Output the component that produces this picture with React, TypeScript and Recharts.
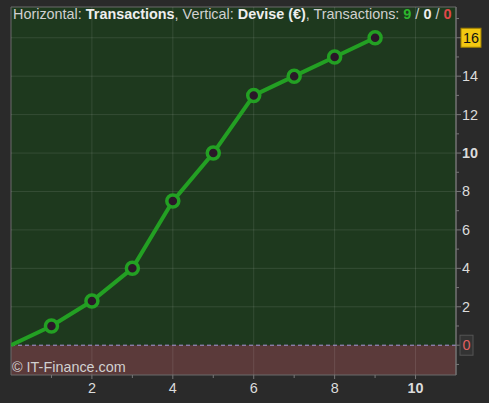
import {
  ComposedChart,
  Line,
  XAxis,
  YAxis,
  ReferenceArea,
  ReferenceLine,
} from "recharts";

const transactions = [0, 1, 2, 3, 4, 5, 6, 7, 8, 9];
const balance = [0, 1, 2.3, 4, 7.5, 10, 13, 14, 15, 16];
const xTicks = [1, 2, 3, 4, 5, 6, 7, 8, 9, 10];
const yTicks = [-1, 0, 1, 2, 3, 4, 5, 6, 7, 8, 9, 10, 11, 12, 13, 14, 15, 16, 17];
const gridX = [2, 4, 6, 8, 10];
const gridY = [2, 4, 6, 8, 10, 12, 14, 16];

const data = transactions.map((t, i) => ({ t, v: balance[i] }));

const FONT = "Arial, 'Liberation Sans', sans-serif";
const LINE = "#23a023";
const FS = 14.4;

function XTick({ x, y, payload }: any) {
  const v = payload.value;
  const major = v % 2 === 0;
  return (
    <g>
      <line x1={x} x2={x} y1={y} y2={y + (major ? 4 : 3)} stroke="#777" />
      {major && (
        <text
          x={x}
          y={y + 18}
          textAnchor="middle"
          fontFamily={FONT}
          fontSize={FS}
          fontWeight={v === 10 ? "bold" : "normal"}
          fill="#dcdcdc"
        >
          {v}
        </text>
      )}
    </g>
  );
}

function YTick({ x, y, payload }: any) {
  const v = payload.value;
  const major = v % 2 === 0 && v >= 0 && v <= 16;
  const tick = <line x1={x} x2={x + (major ? 5 : 3)} y1={y} y2={y} stroke="#777" />;
  if (!major) return <g>{tick}</g>;
  if (v === 16) {
    return (
      <g>
        {tick}
        <rect x={x + 5} y={y - 9.5} width={20} height={19} fill="#f2c811" stroke="#a08000" />
        <text x={x + 15} y={y + 5} textAnchor="middle" fontFamily={FONT} fontSize={FS} fill="#111">
          {v}
        </text>
      </g>
    );
  }
  if (v === 0) {
    return (
      <g>
        {tick}
        <rect x={x + 4} y={y - 10} width={13} height={20} fill="#333" stroke="#555" />
        <text x={x + 10.5} y={y + 5} textAnchor="middle" fontFamily={FONT} fontSize={FS} fill="#e06060">
          {v}
        </text>
      </g>
    );
  }
  return (
    <g>
      {tick}
      <text
        x={x + 6}
        y={y + 5}
        fontFamily={FONT}
        fontSize={FS}
        fontWeight={v === 10 ? "bold" : "normal"}
        fill="#dcdcdc"
      >
        {v}
      </text>
    </g>
  );
}

function Marker({ cx, cy, index }: any) {
  if (index === 0) return <g key={index} />;
  return <circle key={index} cx={cx} cy={cy} r={6} fill="#2a1828" stroke={LINE} strokeWidth={3.5} />;
}

export default function App() {
  return (
    <div
      style={{
        position: "fixed",
        left: 0,
        top: 0,
        width: 489,
        height: 403,
        background: "#2a2a2a",
      }}
    >
      <ComposedChart
        width={489}
        height={403}
        data={data}
        margin={{ top: 7, right: 0, left: 11, bottom: 0 }}
      >
        <XAxis
          type="number"
          dataKey="t"
          domain={[0, 11]}
          ticks={xTicks}
          interval={0}
          tick={<XTick />}
          tickLine={false}
          tickSize={0}
          tickMargin={0}
          axisLine={false}
          height={28}
          allowDataOverflow
        />
        <YAxis
          type="number"
          orientation="right"
          domain={[-1.55, 17.6]}
          ticks={yTicks}
          interval={0}
          tick={<YTick />}
          tickLine={false}
          tickSize={0}
          tickMargin={0}
          axisLine={{ stroke: "#777" }}
          width={33}
          allowDataOverflow
        />
        <ReferenceArea y1={0} y2={17.6} fill="#1e391e" fillOpacity={1} strokeOpacity={0} />
        <ReferenceArea y1={-1.55} y2={0} fill="#5b3a3a" fillOpacity={1} strokeOpacity={0} />
        {gridX.map((g) => (
          <ReferenceLine key={"x" + g} x={g} stroke="#ffffff" strokeOpacity={0.1} />
        ))}
        {gridY.map((g) => (
          <ReferenceLine key={"y" + g} y={g} stroke="#ffffff" strokeOpacity={0.1} />
        ))}
        <ReferenceLine y={0} stroke="#a898d8" strokeDasharray="4 3" />
        <ReferenceArea
          y1={-1.55}
          y2={17.6}
          fill="none"
          stroke="#6a6a6a"
          strokeWidth={1}
        />
        <Line
          type="linear"
          dataKey="v"
          stroke={LINE}
          strokeWidth={4}
          dot={<Marker />}
          activeDot={false}
          isAnimationActive={false}
        />
      </ComposedChart>
      <div
        style={{
          position: "absolute",
          left: 13,
          top: 6,
          fontFamily: FONT,
          fontSize: FS,
          color: "#d0d0d0",
          whiteSpace: "nowrap",
        }}
      >
        Horizontal: <b style={{ color: "#eee" }}>Transactions</b>, Vertical:{" "}
        <b style={{ color: "#eee" }}>Devise (€)</b>, Transactions:{" "}
        <b style={{ color: "#2db82d" }}>9</b> / <b style={{ color: "#eee" }}>0</b> /{" "}
        <b style={{ color: "#e04848" }}>0</b>
      </div>
      <div
        style={{
          position: "absolute",
          left: 12,
          top: 359,
          fontFamily: FONT,
          fontSize: FS,
          color: "#d0d0d0",
          whiteSpace: "nowrap",
        }}
      >
        © IT-Finance.com
      </div>
    </div>
  );
}
